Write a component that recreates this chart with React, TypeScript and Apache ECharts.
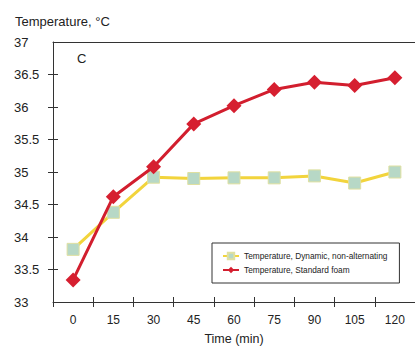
import React, { useEffect, useRef } from "react";
import * as echarts from "echarts";

const categories = ["0", "15", "30", "45", "60", "75", "90", "105", "120"];
const dynamicValues = [33.81, 34.38, 34.92, 34.9, 34.91, 34.91, 34.94, 34.83, 35.0];
const standardValues = [33.34, 34.62, 35.08, 35.74, 36.02, 36.27, 36.38, 36.33, 36.45];
const yTickValues = [33.5, 34, 34.5, 35, 35.5, 36, 36.5];
const seriesNames = ["Temperature, Dynamic, non-alternating", "Temperature, Standard foam"];

export default function App() {
  const ref = useRef<HTMLDivElement>(null);
  useEffect(() => {
    if (!ref.current) return;
    const chart = echarts.init(ref.current, null, { renderer: "svg" });
    const axisColor = "#333";
    const textColor = "#222";
    const font = "Arial, 'Liberation Sans', Helvetica, sans-serif";
    chart.setOption({
      animation: false,
      backgroundColor: "#fff",
      grid: { left: 53, top: 42, bottom: 44, right: -7.5, containLabel: false },
      legend: {
        orient: "vertical",
        left: 212,
        top: 243,
        padding: [8, 12, 8, 10],
        itemGap: 4,
        itemWidth: 16,
        itemHeight: 8,
        borderColor: "#333",
        borderWidth: 1,
        textStyle: { fontSize: 8.3, lineHeight: 10, color: textColor, fontFamily: font },
        data: seriesNames,
      },
      graphic: [
        {
          type: "text",
          left: 15,
          top: 15,
          style: { text: "Temperature, °C", fontSize: 13, fill: textColor, fontFamily: font },
        },
        {
          type: "text",
          left: 77,
          top: 52,
          style: { text: "C", fontSize: 13, fill: textColor, fontFamily: font },
        },
      ],
      xAxis: [
        {
          type: "category",
          data: categories,
          boundaryGap: true,
          position: "bottom",
          name: "Time (min)",
          nameLocation: "middle",
          nameGap: 30,
          nameTextStyle: { fontSize: 12.5, color: textColor, fontFamily: font },
          axisLine: { show: true, lineStyle: { color: axisColor, width: 1 } },
          axisTick: { show: true, inside: false, length: 5, lineStyle: { color: axisColor } },
          axisLabel: { show: true, margin: 12, fontSize: 12, color: textColor, fontFamily: font },
          splitLine: { show: false },
        },
        {
          type: "category",
          data: categories,
          boundaryGap: true,
          position: "bottom",
          axisLine: { show: false },
          axisTick: { show: true, inside: true, length: 5, lineStyle: { color: axisColor } },
          axisLabel: { show: false },
          splitLine: { show: false },
        },
        {
          type: "category",
          data: categories,
          boundaryGap: true,
          position: "top",
          axisLine: { show: true, lineStyle: { color: axisColor, width: 1 } },
          axisTick: { show: false },
          axisLabel: { show: false },
          splitLine: { show: false },
        },
      ],
      yAxis: [
        {
          type: "value",
          min: 33,
          max: 37,
          interval: 0.5,
          position: "left",
          axisLine: { show: true, lineStyle: { color: axisColor, width: 1 } },
          axisTick: { show: true, inside: false, length: 5, customValues: yTickValues, lineStyle: { color: axisColor } },
          axisLabel: { show: true, margin: 39, align: "left", fontSize: 13, color: textColor, fontFamily: font },
          splitLine: { show: false },
        },
        {
          type: "value",
          min: 33,
          max: 37,
          interval: 0.5,
          position: "left",
          axisLine: { show: false },
          axisTick: { show: true, inside: true, length: 5, customValues: yTickValues, lineStyle: { color: axisColor } },
          axisLabel: { show: false },
          splitLine: { show: false },
        },
      ],
      series: [
        {
          name: seriesNames[0],
          type: "line",
          xAxisIndex: 0,
          yAxisIndex: 0,
          data: dynamicValues,
          symbol: "rect",
          symbolSize: 12,
          lineStyle: { color: "#f2d43c", width: 3 },
          itemStyle: { color: "#b7d8c6", borderColor: "#dfe0a0", borderWidth: 1 },
          z: 2,
        },
        {
          name: seriesNames[1],
          type: "line",
          xAxisIndex: 0,
          yAxisIndex: 0,
          data: standardValues,
          symbol: "diamond",
          symbolSize: 15,
          lineStyle: { color: "#d21e2e", width: 3 },
          itemStyle: { color: "#d61f30" },
          z: 3,
        },
      ],
    });
    return () => chart.dispose();
  }, []);
  return (
    <div
      ref={ref}
      style={{ position: "absolute", left: 0, top: 0, width: 415, height: 350 }}
    />
  );
}
